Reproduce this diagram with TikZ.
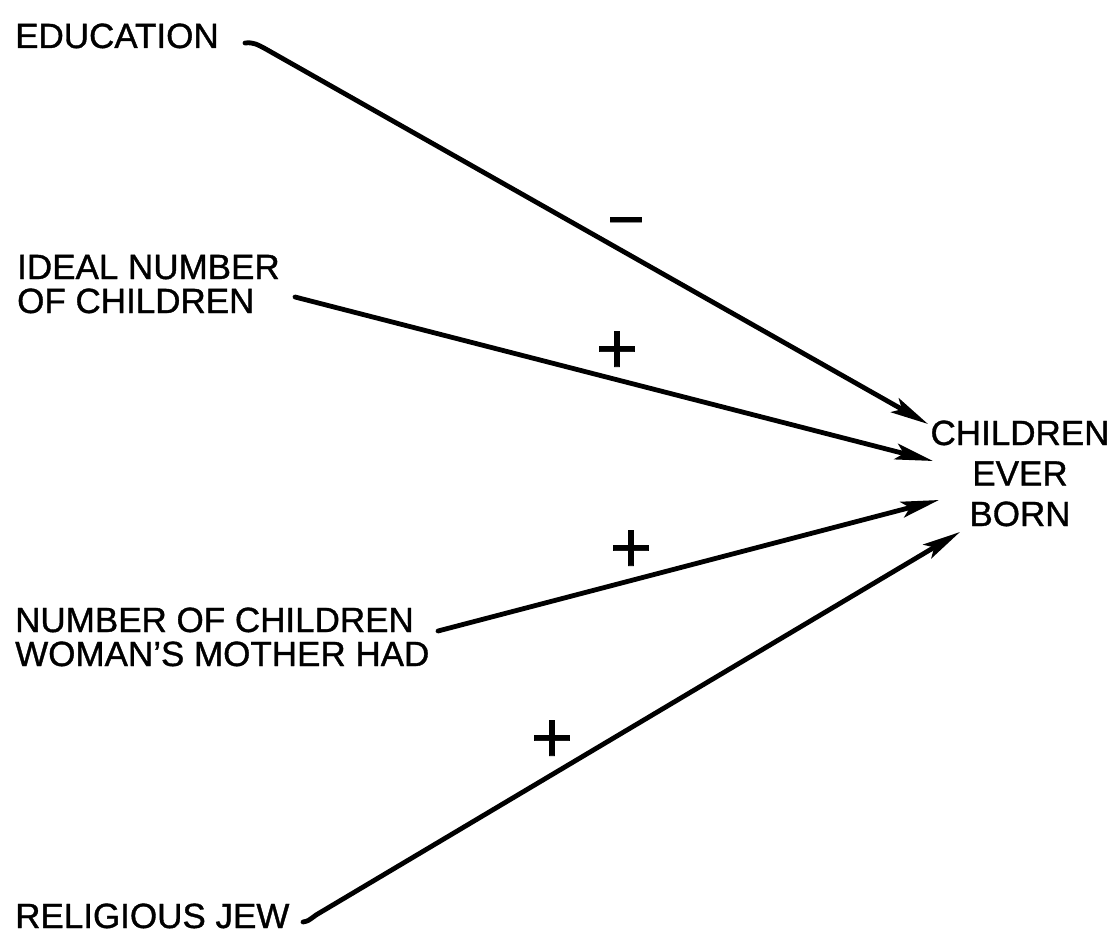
\documentclass[tikz,border=0pt]{standalone}
\usepackage{fontspec}
\setmainfont{Liberation Sans}[FakeBold=1]
\usetikzlibrary{arrows.meta}
\begin{document}
\begin{tikzpicture}[x=1pt,y=-1pt,
  lbl/.style={inner sep=0pt, anchor=base west, align=left, font=\fontsize{35}{34}\selectfont},
  sign/.style={inner sep=0pt, anchor=base, font=\fontsize{72}{72}\selectfont},
  conn/.style={line width=4.8pt, line cap=round, -{Stealth[length=38pt,width=16pt,inset=8pt]}}]
\useasboundingbox (0,0) rectangle (1111,944);
% labels (base anchor = baseline of the last line)
\node[lbl] (edu) at (15,48) {EDUCATION};
\node[lbl] (ideal) at (17,313) {IDEAL NUMBER\\OF CHILDREN};
\node[lbl] (mother) at (15,666) {NUMBER OF CHILDREN\\WOMAN’S MOTHER HAD};
\node[lbl] (jew) at (15,928) {RELIGIOUS JEW};
\node[inner sep=0pt, anchor=base, align=center, font=\fontsize{35}{40.5}\selectfont] (ceb) at (1020,526) {CHILDREN\\EVER\\BORN};
% connector ends
\coordinate (s1) at (245,43);
\coordinate (t1) at (928,424);
\coordinate (s2) at (295,297);
\coordinate (t2) at (933,461);
\coordinate (s3) at (438,631);
\coordinate (t3) at (939,500);
\coordinate (s4) at (303,922);
\coordinate (t4) at (960,532);
% connectors
\draw[conn] (s1) .. controls (254,42) and (258,45) .. (264,48) -- (t1);
\draw[conn] (s2) -- (t2);
\draw[conn] (s3) -- (t3);
\draw[conn] (s4) .. controls (308,921) .. (316,915) -- (t4);
% signs
\node[sign, font=\fontsize{64}{64}\selectfont] (m1) at (626,241) {−};
\node[sign] (p1) at (617,373) {+};
\node[sign] (p2) at (631,572) {+};
\node[sign] (p3) at (552,762) {+};
\end{tikzpicture}
\end{document}
